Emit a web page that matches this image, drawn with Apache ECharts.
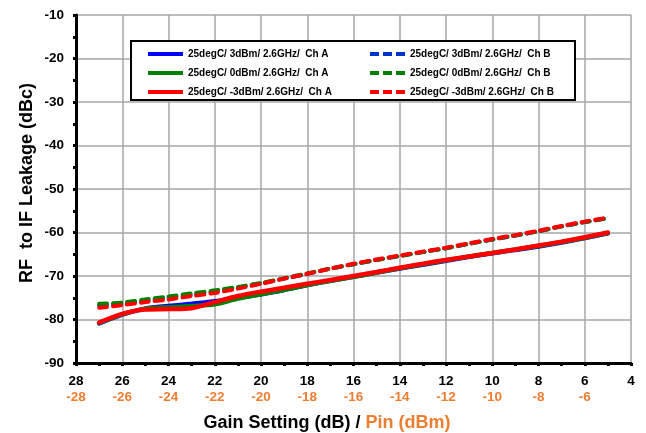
<!DOCTYPE html>
<html>
<head>
<meta charset="utf-8">
<script src="https://cdn.jsdelivr.net/npm/echarts@6/dist/echarts.min.js"></script>
<style>
html,body{margin:0;padding:0;background:#fff;}
#chart{width:646px;height:433px;}
</style>
</head>
<body>
<div id="chart"></div>
<script>
// Gain setting (dB) for each measured point
const gainSetting = [27,26,25,24,23,22,21,20,19,18,17,16,15,14,13,12,11,10,9,8,7,6,5];

// RF to IF leakage (dBc)
const chA_3dBm  = [-80.9,-78.9,-77.5,-76.9,-76.4,-75.8,-75.0,-74.2,-73.2,-72.1,-71.1,-70.2,-69.2,-68.3,-67.4,-66.5,-65.6,-64.8,-64.0,-63.2,-62.3,-61.3,-60.2];
const chA_0dBm  = [-80.8,-78.8,-77.5,-77.2,-76.9,-76.5,-75.2,-74.2,-73.2,-72.1,-71.1,-70.2,-69.2,-68.2,-67.3,-66.4,-65.5,-64.7,-63.9,-63.1,-62.2,-61.2,-60.1];
const chA_m3dBm = [-80.7,-78.7,-77.7,-77.6,-77.4,-76.0,-74.6,-73.6,-72.7,-71.8,-70.9,-70.0,-69.1,-68.1,-67.2,-66.3,-65.5,-64.7,-63.9,-63.0,-62.1,-61.1,-60.0];
const chB_3dBm  = [-76.8,-76.4,-75.7,-75.0,-74.3,-73.6,-72.7,-71.7,-70.6,-69.5,-68.3,-67.3,-66.3,-65.4,-64.5,-63.6,-62.6,-61.6,-60.7,-59.7,-58.6,-57.6,-56.7];
const chB_0dBm  = [-76.4,-76.1,-75.4,-74.7,-74.0,-73.3,-72.5,-71.6,-70.5,-69.4,-68.3,-67.3,-66.3,-65.4,-64.5,-63.6,-62.6,-61.6,-60.7,-59.7,-58.6,-57.6,-56.7];
const chB_m3dBm = [-77.3,-76.7,-76.0,-75.4,-74.6,-73.9,-72.9,-71.8,-70.6,-69.5,-68.3,-67.2,-66.2,-65.3,-64.4,-63.5,-62.5,-61.5,-60.6,-59.6,-58.5,-57.5,-56.6];

// Tick labels
const gainTicks = ['28','26','24','22','20','18','16','14','12','10','8','6','4'];
const pinTicks  = ['-28','-26','-24','-22','-20','-18','-16','-14','-12','-10','-8','-6',''];
const gainTickValues = [28,26,24,22,20,18,16,14,12,10,8,6,4];

const seriesDefs = [
  {name:'25degC/ 3dBm/ 2.6GHz/  Ch A',  data:chA_3dBm,  color:'#0000FF', dash:'solid'},
  {name:'25degC/ 0dBm/ 2.6GHz/  Ch A',  data:chA_0dBm,  color:'#008000', dash:'solid'},
  {name:'25degC/ -3dBm/ 2.6GHz/  Ch A', data:chA_m3dBm, color:'#FF0000', dash:'solid'},
  {name:'25degC/ 3dBm/ 2.6GHz/  Ch B',  data:chB_3dBm,  color:'#0033CC', dash:[8,6]},
  {name:'25degC/ 0dBm/ 2.6GHz/  Ch B',  data:chB_0dBm,  color:'#008000', dash:[8,6]},
  {name:'25degC/ -3dBm/ 2.6GHz/  Ch B', data:chB_m3dBm, color:'#FF0000', dash:[8,6]}
];

const FONT = 'Liberation Sans, Arial, sans-serif';
const ORANGE = '#ED7D31';

const chart = echarts.init(document.getElementById('chart'), null, {renderer:'canvas'});

const series = seriesDefs.map((s, i) => ({
  name: s.name,
  type: 'line',
  data: gainSetting.map((g, k) => [g, s.data[k]]),
  showSymbol: false,
  symbol: 'none',
  smooth: 0.3,
  color: s.color,
  lineStyle: {color: s.color, width: s.dash === 'solid' ? 4.5 : 4, type: s.dash, cap: 'round'},
  z: s.dash === 'solid' ? 3 + i : 2 + i * 0.1,
  animation: false
}));

const SOLID_ICON = 'path://M0,3 L35,3 L35,7 L0,7 Z';
const DASH_ICON = 'path://M0,3 L9,3 L9,7 L0,7 Z M13,3 L22,3 L22,7 L13,7 Z M26,3 L35,3 L35,7 L26,7 Z';

const legendCommon = {
  orient: 'vertical',
  top: 44,
  itemWidth: 35,
  itemHeight: 10,
  itemGap: 9,
  z: 20,
  textStyle: {fontFamily: FONT, fontWeight: 'bold', fontSize: 10, color: '#000'},
  selectedMode: false
};

chart.setOption({
  animation: false,
  backgroundColor: '#fff',
  grid: {left: 76, top: 15, right: 15, bottom: 70, containLabel: false},
  xAxis: {
    type: 'value',
    inverse: true,
    min: 4, max: 28, interval: 2,
    axisLine: {show: true, onZero: false, lineStyle: {color: '#000', width: 3}},
    axisTick: {show: true, length: 3, lineStyle: {color: '#000', width: 3}},
    minorTick: {show: true, splitNumber: 2, length: 3, lineStyle: {color: '#000', width: 3}},
    splitLine: {show: true, lineStyle: {color: '#A6A6A6', width: 1.5}},
    axisLabel: {
      margin: 10,
      formatter: function (v) {
        const idx = gainTickValues.indexOf(v);
        if (idx < 0) return '';
        return '{a|' + gainTicks[idx] + '}\n{b|' + (pinTicks[idx] || ' ') + '}';
      },
      rich: {
        a: {fontFamily: FONT, fontWeight: 'bold', fontSize: 13.5, color: '#000', lineHeight: 16},
        b: {fontFamily: FONT, fontWeight: 'bold', fontSize: 13.5, color: ORANGE, lineHeight: 16}
      }
    }
  },
  yAxis: {
    type: 'value',
    min: -90, max: -10, interval: 10,
    axisLine: {show: true, onZero: false, lineStyle: {color: '#000', width: 3}},
    axisTick: {show: true, length: 3, lineStyle: {color: '#000', width: 3}},
    minorTick: {show: true, splitNumber: 2, length: 3, lineStyle: {color: '#000', width: 3}},
    splitLine: {show: true, lineStyle: {color: '#A6A6A6', width: 1.5}},
    axisLabel: {margin: 12, fontFamily: FONT, fontWeight: 'bold', fontSize: 13.5, color: '#000'}
  },
  legend: [
    Object.assign({}, legendCommon, {left: 143, data: seriesDefs.slice(0,3).map(s => ({name: s.name, icon: SOLID_ICON}))}),
    Object.assign({}, legendCommon, {left: 365, data: seriesDefs.slice(3).map(s => ({name: s.name, icon: DASH_ICON}))})
  ],
  graphic: [
    {type: 'rect', z: 10, shape: {x: 131, y: 41, width: 444, height: 59},
     style: {fill: '#fff', stroke: '#000', lineWidth: 2}},
    {type: 'text', z: 10, x: 27, y: 183, rotation: Math.PI / 2,
     style: {
       text: 'RF  to IF Leakage (dBc)',
       fontFamily: FONT, fontWeight: 'bold', fontSize: 18, fill: '#000',
       textAlign: 'center', textVerticalAlign: 'middle'
     }},
    {type: 'text', z: 10, x: 327, y: 423,
     style: {
       text: '{a|Gain Setting (dB) / }{b|Pin (dBm)}',
       textAlign: 'center', textVerticalAlign: 'middle',
       rich: {
         a: {fontFamily: FONT, fontWeight: 'bold', fontSize: 18, fill: '#000'},
         b: {fontFamily: FONT, fontWeight: 'bold', fontSize: 18, fill: ORANGE}
       }
     }}
  ],
  series: series
});
</script>
</body>
</html>
